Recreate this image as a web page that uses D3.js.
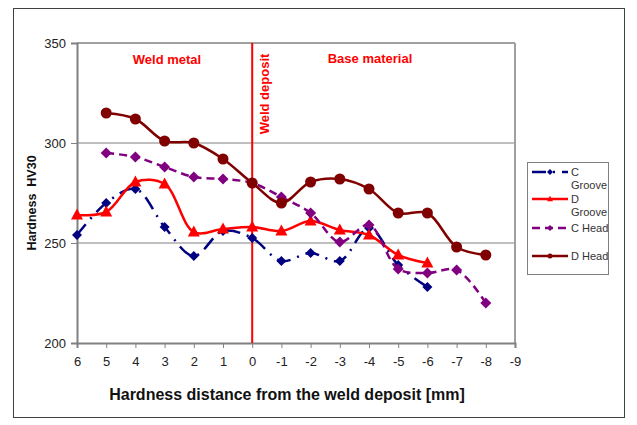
<!DOCTYPE html>
<html><head><meta charset="utf-8">
<script src="https://cdn.jsdelivr.net/npm/d3@7"></script>
<style>body{margin:0;background:#fff}</style>
</head><body>
<svg id="c" width="637" height="425"></svg>
<script>
const xTicks = [6,5,4,3,2,1,0,-1,-2,-3,-4,-5,-6,-7,-8,-9];
const yTicks = [200,250,300,350];
const cGrooveX = [6,5,4,3,2,1,0,-1,-2,-3,-4,-5,-6];
const cGrooveY = [254,270,277,258,243.5,256,252.5,241,245,241,257.5,239,228];
const dGrooveX = [6,5,4,3,2,1,0,-1,-2,-3,-4,-5,-6];
const dGrooveY = [264,265.5,280.5,279.5,255.5,257,258,256,261,256.5,254,244,240];
const cHeadX = [5,4,3,2,1,0,-1,-2,-3,-4,-5,-6,-7,-8];
const cHeadY = [295,293,288,283,282,280,273,265,250.5,259,237,235,236.5,220];
const dHeadX = [5,4,3,2,1,0,-1,-2,-3,-4,-5,-6,-7,-8];
const dHeadY = [315,312,301,300,292,280,270,280.5,282,277,265,265,248,244];
const seriesNames = ["C Groove","D Groove","C Head","D Head"];

const svg = d3.select("#c");
const font = "Liberation Sans, Arial, sans-serif";
svg.append("rect").attr("x",13.5).attr("y",8.5).attr("width",611).attr("height",409)
  .attr("fill","#fff").attr("stroke","#404040").attr("stroke-width",1);

const L=77, R=515, T=43, B=343;
const x = d3.scaleLinear().domain([6,-9]).range([L,R]);
const y = d3.scaleLinear().domain([200,350]).range([B,T]);

// gridlines
svg.append("g").selectAll("line").data([250,300]).join("line")
  .attr("x1",L).attr("x2",R).attr("y1",d=>y(d)).attr("y2",d=>y(d))
  .attr("stroke","#808080").attr("stroke-width",1);
// plot border top/right
svg.append("line").attr("x1",L).attr("x2",R).attr("y1",T).attr("y2",T).attr("stroke","#a0a0a0").attr("stroke-width",2);
svg.append("line").attr("x1",R).attr("x2",R).attr("y1",T).attr("y2",B).attr("stroke","#a0a0a0").attr("stroke-width",2);

// axes
const xAxis = svg.append("g").attr("transform",`translate(0,${B})`)
  .call(d3.axisBottom(x).tickValues(xTicks).tickFormat(d=>String(d)).tickSizeOuter(0).tickSize(5).tickPadding(6));
const yAxis = svg.append("g").attr("transform",`translate(${L},0)`)
  .call(d3.axisLeft(y).tickValues(yTicks).tickSizeOuter(0).tickSize(6).tickPadding(5));
[xAxis,yAxis].forEach(a=>{
  a.select(".domain").attr("stroke","#808080").attr("stroke-width",2);
  a.selectAll(".tick line").attr("stroke","#808080");
  a.selectAll("text").attr("font-family",font).attr("font-size",13).attr("fill","#222");
});
xAxis.selectAll("text").attr("dy","0.9em");

// Weld deposit line
svg.append("line").attr("x1",x(0)).attr("x2",x(0)).attr("y1",T).attr("y2",B)
  .attr("stroke","#ff0000").attr("stroke-width",2);

// annotations
svg.append("text").attr("x",167).attr("y",64).attr("text-anchor","middle")
  .attr("font-family",font).attr("font-weight","bold").attr("font-size",13).attr("fill","#ff0000").text("Weld metal");
svg.append("text").attr("x",370).attr("y",63).attr("text-anchor","middle")
  .attr("font-family",font).attr("font-weight","bold").attr("font-size",13).attr("fill","#ff0000").text("Base material");
svg.append("text").attr("transform","translate(269,94) rotate(-90)").attr("text-anchor","middle")
  .attr("font-family",font).attr("font-weight","bold").attr("font-size",13).attr("fill","#ff0000").text("Weld deposit");

// axis titles
svg.append("text").attr("x",287).attr("y",400).attr("text-anchor","middle")
  .attr("font-family",font).attr("font-weight","bold").attr("font-size",16).attr("fill","#111")
  .text("Hardness distance from the weld deposit [mm]");
svg.append("text").attr("transform","translate(36,203) rotate(-90)").attr("text-anchor","middle")
  .attr("font-family",font).attr("font-weight","bold").attr("font-size",12.5).attr("fill","#111")
  .style("white-space","pre").text("Hardness  HV30");

const curve = d3.curveCatmullRom.alpha(0.5);
const series = [
  {name:seriesNames[0], xs:cGrooveX, ys:cGrooveY, color:"#000080", dash:"14,7,2,7", marker:"diamond", size:5},
  {name:seriesNames[1], xs:dGrooveX, ys:dGrooveY, color:"#ff0000", dash:null, marker:"triangle", size:6},
  {name:seriesNames[2], xs:cHeadX, ys:cHeadY, color:"#800080", dash:"8,5", marker:"diamond", size:5.5},
  {name:seriesNames[3], xs:dHeadX, ys:dHeadY, color:"#800000", dash:null, marker:"circle", size:5.5}
];
function markerPath(type, s){
  if(type==="diamond") return `M0,${-s}L${s},0L0,${s}L${-s},0Z`;
  if(type==="triangle") return `M0,${-s*1.1}L${s},${s*0.75}L${-s},${s*0.75}Z`;
  return null;
}
const line = d3.line().x(d=>x(d[0])).y(d=>y(d[1])).curve(curve);
series.forEach(s=>{
  const pts = s.xs.map((v,i)=>[v,s.ys[i]]);
  const g = svg.append("g");
  g.append("path").attr("d",line(pts)).attr("fill","none").attr("stroke",s.color)
    .attr("stroke-width",2.5).attr("stroke-dasharray",s.dash);
  pts.forEach(p=>{
    if(s.marker==="circle"){
      g.append("circle").attr("cx",x(p[0])).attr("cy",y(p[1])).attr("r",s.size).attr("fill",s.color);
    } else {
      g.append("path").attr("transform",`translate(${x(p[0])},${y(p[1])})`)
        .attr("d",markerPath(s.marker,s.size)).attr("fill",s.color);
    }
  });
});

// legend
svg.append("rect").attr("x",527.5).attr("y",162.5).attr("width",81).attr("height",112)
  .attr("fill","#fff").attr("stroke","#808080");
const legY = [172,199,228,256];
series.forEach((s,i)=>{
  const g = svg.append("g");
  g.append("line").attr("x1",532).attr("x2",568).attr("y1",legY[i]).attr("y2",legY[i])
    .attr("stroke",s.color).attr("stroke-width",2.5).attr("stroke-dasharray",s.dash);
  if(s.marker==="circle") g.append("circle").attr("cx",550).attr("cy",legY[i]).attr("r",2.5).attr("fill",s.color);
  else g.append("path").attr("transform",`translate(550,${legY[i]})`).attr("d",markerPath(s.marker,3)).attr("fill",s.color);
  const parts = s.name.split(" ");
  const t = g.append("text").attr("x",571).attr("y",legY[i]+4).attr("font-family",font).attr("font-size",11).attr("fill","#333");
  if(s.name.includes("Groove")){
    t.append("tspan").attr("x",571).text(parts[0]);
    t.append("tspan").attr("x",571).attr("dy",13).text(parts[1]);
  } else t.text(s.name);
});
</script>
</body></html>
